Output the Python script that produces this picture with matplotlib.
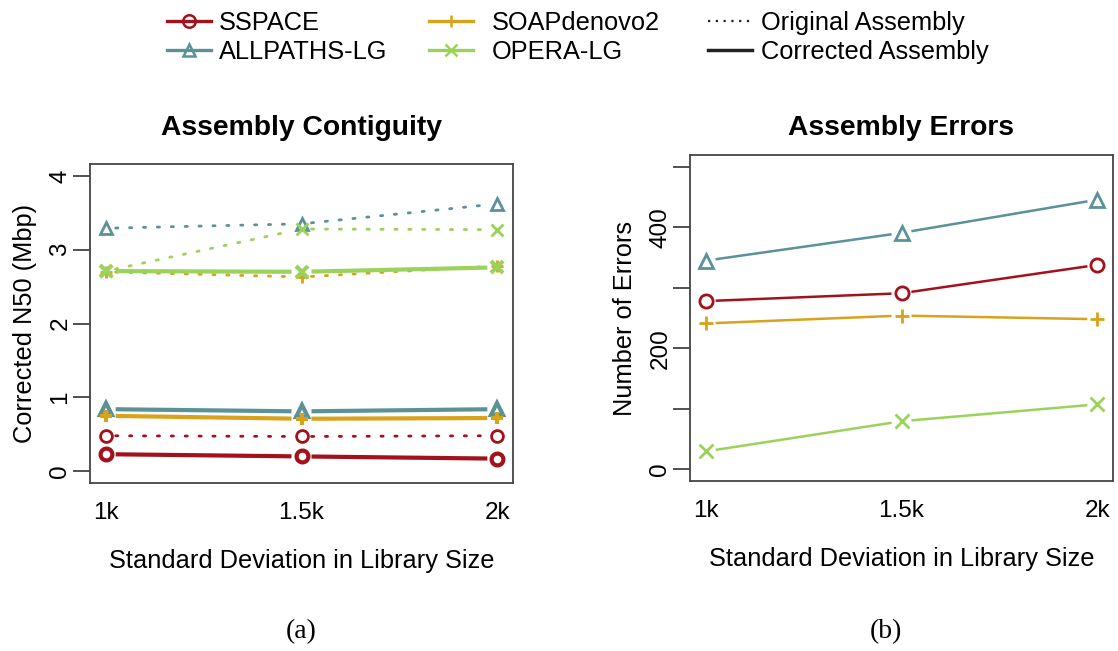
import numpy as np
import matplotlib
matplotlib.use("Agg")
import matplotlib.pyplot as plt
from matplotlib.lines import Line2D

plt.rcParams['font.family'] = ['Liberation Sans', 'DejaVu Sans']

# ---- data ----
sd_labels = ["1k", "1.5k", "2k"]
tools = ["SSPACE", "ALLPATHS-LG", "SOAPdenovo2", "OPERA-LG"]

n50_original = {
    "SSPACE":      [0.48, 0.47, 0.48],
    "ALLPATHS-LG": [3.29, 3.35, 3.62],
    "SOAPdenovo2": [2.70, 2.63, 2.78],
    "OPERA-LG":    [2.71, 3.28, 3.27],
}
n50_corrected = {
    "SSPACE":      [0.23, 0.20, 0.17],
    "ALLPATHS-LG": [0.84, 0.81, 0.84],
    "SOAPdenovo2": [0.75, 0.71, 0.72],
    "OPERA-LG":    [2.71, 2.70, 2.76],
}
n_errors = {
    "SSPACE":      [278, 291, 338],
    "ALLPATHS-LG": [345, 391, 446],
    "SOAPdenovo2": [241, 254, 248],
    "OPERA-LG":    [29, 79, 107],
}

colors = {"SSPACE": "#A3121C", "ALLPATHS-LG": "#5A9298",
          "SOAPdenovo2": "#D8A21A", "OPERA-LG": "#9BD25C"}
markers = {"SSPACE": "o", "ALLPATHS-LG": "^", "SOAPdenovo2": "+", "OPERA-LG": "x"}

W, H = 1118, 651
fig = plt.figure(figsize=(W / 100, H / 100), dpi=100)


def px_axes(x0, y0, x1, y1):
    return fig.add_axes([x0 / W, 1 - y1 / H, (x1 - x0) / W, (y1 - y0) / H])


def gapped_line(ax, x, y, color, lw, ls, gap=10):
    """Draw line like R type='b': segments stop short of the points."""
    pts = ax.transData.transform(np.column_stack([x, y]))
    inv = ax.transData.inverted()
    for p, q in zip(pts[:-1], pts[1:]):
        d = q - p
        L = np.hypot(*d)
        if L <= 2 * gap:
            continue
        u = d / L
        a, b = inv.transform(np.vstack([p + u * gap, q - u * gap]))
        ax.plot([a[0], b[0]], [a[1], b[1]], color=color, lw=lw, ls=ls,
                solid_capstyle="butt", dash_capstyle="round")


def draw_points(ax, x, y, tool, ms, mew):
    m = markers[tool]
    ax.plot(x, y, ls="none", marker=m, ms=ms, mew=mew,
            mfc="none" if m in "o^" else colors[tool], mec=colors[tool], zorder=4)


def style_axes(ax, ylim, yticks, ylabels, title, ylabel):
    xs = np.arange(1, len(sd_labels) + 1)
    ax.set_xlim(0.92, 3.08)
    ax.set_ylim(*ylim)
    ax.set_xticks(xs)
    ax.set_xticklabels(sd_labels, fontsize=17.5)
    ax.tick_params(axis="x", length=0, pad=14)
    ax.set_yticks(yticks)
    ax.set_yticklabels(ylabels, fontsize=17.5, rotation=90, va="center")
    ax.tick_params(axis="y", length=12, width=1.2, color="#333333", pad=1.5)
    for s in ax.spines.values():
        s.set_color("#444444")
        s.set_linewidth(1.3)
    ax.set_xlabel("Standard Deviation in Library Size", fontsize=18.3, labelpad=18)
    ax.set_ylabel(ylabel, fontsize=18.3, labelpad=9)
    bb = ax.get_position()
    fig.text(bb.x0 + bb.width / 2, 1 - 128 / H, title, fontsize=20.3,
             fontweight="bold", ha="center", va="center")


xs = np.arange(1, len(sd_labels) + 1)

# ---- (a) Assembly Contiguity ----
ax1 = px_axes(90, 164, 513, 483)
style_axes(ax1, (-0.16, 4.16), [0, 1, 2, 3, 4], ["0", "1", "2", "3", "4"],
           "Assembly Contiguity", "Corrected N50 (Mbp)")
for t in tools:
    gapped_line(ax1, xs, n50_original[t], colors[t], 2.0, (0, (0.8, 4.2)), gap=10)
    draw_points(ax1, xs, n50_original[t], t, 8.5, 2.0)
for t in tools:
    gapped_line(ax1, xs, n50_corrected[t], colors[t], 3.0, "-", gap=10)
    draw_points(ax1, xs, n50_corrected[t], t, 8.5, 3.0)

# ---- (b) Assembly Errors ----
ax2 = px_axes(690, 155, 1113, 481)
style_axes(ax2, (-20, 520), [0, 100, 200, 300, 400, 500],
           ["0", "", "200", "", "400", ""],
           "Assembly Errors", "Number of Errors")
for t in tools:
    gapped_line(ax2, xs, n_errors[t], colors[t], 1.8, "-", gap=10)
    draw_points(ax2, xs, n_errors[t], t, 9.5, 2.0)

fig.text(301 / W, 1 - 632 / H, "(a)", fontsize=20, family="Liberation Serif",
         ha="center", va="center")
fig.text(886 / W, 1 - 632 / H, "(b)", fontsize=20, family="Liberation Serif",
         ha="center", va="center")

# ---- legend: three columns placed separately ----
handles = []
for t in tools:
    m = markers[t]
    handles.append(Line2D([], [], color=colors[t], lw=2.4, marker=m, ms=9, mew=1.8,
                          mfc="none" if m in "o^" else colors[t], mec=colors[t]))
handles.append(Line2D([], [], color="#222222", lw=1.6, ls=(0, (1, 2.5))))
handles.append(Line2D([], [], color="#222222", lw=2.5, ls="-"))
labels = ["SSPACE", "ALLPATHS-LG", "SOAPdenovo2", "OPERA-LG",
          "Original Assembly", "Corrected Assembly"]
col_x = [167, 429, 708]
col_pad = [0.3, 0.72, 0.35]
for i, x0 in enumerate(col_x):
    fig.legend(handles[2 * i:2 * i + 2], labels[2 * i:2 * i + 2],
               loc="upper left", bbox_to_anchor=(x0 / W, 1 - 11 / H),
               frameon=False, fontsize=18.3, handlelength=1.75,
               handletextpad=col_pad[i], labelspacing=0.2, borderpad=0,
               borderaxespad=0)

fig.savefig("out.png", dpi=100)
